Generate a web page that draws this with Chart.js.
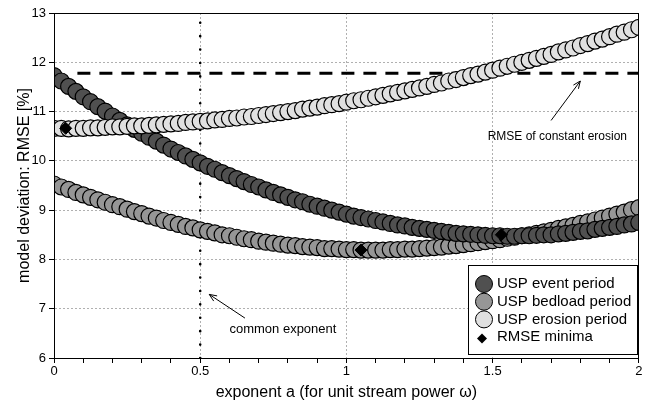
<!DOCTYPE html>
<html>
<head>
<meta charset="utf-8">
<script src="https://cdn.jsdelivr.net/npm/chart.js@4.4.1/dist/chart.umd.min.js"></script>
<style>
  body { margin: 0; background: #fff; }
</style>
</head>
<body>
<canvas id="chart" width="648" height="401"></canvas>
<script>
// exponent a, read every 0.025
const exponents = [0,0.025,0.05,0.075,0.1,0.125,0.15,0.175,0.2,0.225,
  0.25,0.275,0.3,0.325,0.35,0.375,0.4,0.425,0.45,0.475,
  0.5,0.525,0.55,0.575,0.6,0.625,0.65,0.675,0.7,0.725,
  0.75,0.775,0.8,0.825,0.85,0.875,0.9,0.925,0.95,0.975,
  1,1.025,1.05,1.075,1.1,1.125,1.15,1.175,1.2,1.225,
  1.25,1.275,1.3,1.325,1.35,1.375,1.4,1.425,1.45,1.475,
  1.5,1.525,1.55,1.575,1.6,1.625,1.65,1.675,1.7,1.725,
  1.75,1.775,1.8,1.825,1.85,1.875,1.9,1.925,1.95,1.975,
  2];

// RMSE [%] per period
const eventRmse = [11.73,11.62,11.51,11.41,11.30,11.20,11.10,11.01,10.91,10.82,
  10.73,10.64,10.56,10.48,10.40,10.32,10.24,10.17,10.10,10.03,
  9.96,9.89,9.83,9.76,9.70,9.64,9.58,9.52,9.47,9.41,
  9.36,9.31,9.26,9.21,9.17,9.12,9.08,9.04,9.00,8.96,
  8.92,8.88,8.85,8.82,8.79,8.76,8.73,8.70,8.68,8.65,
  8.63,8.61,8.59,8.57,8.55,8.53,8.52,8.51,8.50,8.49,
  8.48,8.48,8.47,8.47,8.48,8.48,8.49,8.50,8.50,8.52,
  8.53,8.55,8.57,8.58,8.61,8.63,8.65,8.67,8.70,8.72,
  8.75];
const bedloadRmse = [9.53,9.47,9.42,9.36,9.31,9.26,9.21,9.16,9.11,9.07,
  9.02,8.97,8.93,8.88,8.84,8.79,8.75,8.71,8.67,8.64,
  8.60,8.57,8.54,8.50,8.48,8.45,8.42,8.40,8.37,8.35,
  8.33,8.31,8.29,8.28,8.26,8.25,8.24,8.22,8.22,8.21,
  8.20,8.20,8.19,8.19,8.19,8.19,8.20,8.20,8.21,8.21,
  8.22,8.23,8.24,8.25,8.27,8.28,8.30,8.32,8.34,8.36,
  8.38,8.40,8.43,8.45,8.48,8.50,8.53,8.56,8.59,8.63,
  8.66,8.69,8.73,8.76,8.80,8.84,8.88,8.92,8.96,9.01,
  9.05];
const erosionRmse = [10.66,10.66,10.65,10.66,10.66,10.67,10.67,10.68,10.69,10.69,
  10.70,10.71,10.71,10.72,10.73,10.74,10.75,10.76,10.78,10.79,
  10.80,10.81,10.83,10.84,10.86,10.87,10.89,10.90,10.92,10.94,
  10.96,10.98,11.00,11.02,11.05,11.07,11.09,11.12,11.14,11.16,
  11.19,11.22,11.24,11.27,11.30,11.33,11.36,11.39,11.42,11.45,
  11.48,11.51,11.55,11.58,11.62,11.65,11.69,11.73,11.76,11.80,
  11.84,11.88,11.92,11.96,12.00,12.04,12.08,12.12,12.16,12.21,
  12.25,12.29,12.34,12.38,12.43,12.47,12.52,12.57,12.61,12.66,
  12.71];

const minimaX = [0.04, 1.05, 1.53];
const minimaY = [10.66, 8.19, 8.50];

const constantX = [0.08, 2];
const constantY = [11.78, 11.78];
const commonX = [0.5, 0.5];
const commonY = [6, 13];

const seriesLabels = ['USP event period', 'USP bedload period', 'USP erosion period', 'RMSE minima'];
const seriesColors = ['#505050', '#969696', '#e0e0e0', '#000000'];

const FONT = '"Liberation Sans", Arial, sans-serif';

function pts(xs, ys) {
  return xs.map((x, i) => ({ x: x, y: ys[i] }));
}

function isHalf(v) {
  return Math.abs(v * 2 - Math.round(v * 2)) < 1e-6;
}

function arrow(ctx, x1, y1, x2, y2) {
  const ang = Math.atan2(y2 - y1, x2 - x1);
  ctx.beginPath();
  ctx.moveTo(x1, y1);
  ctx.lineTo(x2, y2);
  ctx.moveTo(x2 - 8 * Math.cos(ang - 0.4), y2 - 8 * Math.sin(ang - 0.4));
  ctx.lineTo(x2, y2);
  ctx.lineTo(x2 - 8 * Math.cos(ang + 0.4), y2 - 8 * Math.sin(ang + 0.4));
  ctx.stroke();
}

// frame, notes with arrows, boxed legend
const extras = {
  id: 'extras',
  afterDraw(chart) {
    const ctx = chart.ctx;
    const a = chart.chartArea;
    const xs = chart.scales.x, ys = chart.scales.y;
    const px = v => xs.getPixelForValue(v);
    const py = v => ys.getPixelForValue(v);
    ctx.save();
    ctx.strokeStyle = '#000';
    ctx.lineWidth = 1;
    ctx.strokeRect(Math.round(a.left) + 0.5, Math.round(a.top) + 0.5,
      Math.round(a.right - a.left) - 1, Math.round(a.bottom - a.top));

    ctx.fillStyle = '#000';
    ctx.textBaseline = 'middle';
    ctx.textAlign = 'left';
    ctx.font = '12px ' + FONT;
    ctx.fillText('RMSE of constant erosion', px(1.483), py(10.5));
    ctx.font = '13px ' + FONT;
    ctx.fillText('common exponent', px(0.6), py(6.58));
    arrow(ctx, px(1.70), py(10.82), px(1.80), py(11.62));
    arrow(ctx, px(0.653), py(6.81), px(0.531), py(7.29));

    // legend box
    const w = 169, h = 89;
    const bx = Math.round(a.right) - 2 - w, by = Math.round(a.bottom) - 4 - h;
    ctx.fillStyle = '#fff';
    ctx.fillRect(bx, by, w, h);
    ctx.strokeRect(bx + 0.5, by + 0.5, w, h);
    ctx.font = '15px ' + FONT;
    ctx.textAlign = 'left';
    for (let i = 0; i < seriesLabels.length; i++) {
      const cy = by + 19 + i * 17.7;
      if (i < 3) {
        ctx.beginPath();
        ctx.arc(bx + 16, cy, 8.5, 0, Math.PI * 2);
        ctx.fillStyle = seriesColors[i];
        ctx.fill();
        ctx.stroke();
      } else {
        const cx = bx + 14, r = 5, dy = cy + 1.5;
        ctx.beginPath();
        ctx.moveTo(cx, dy - r); ctx.lineTo(cx + r, dy); ctx.lineTo(cx, dy + r); ctx.lineTo(cx - r, dy);
        ctx.closePath();
        ctx.fillStyle = '#000';
        ctx.fill();
      }
      ctx.fillStyle = '#000';
      ctx.fillText(seriesLabels[i], bx + 29, cy);
    }
    ctx.restore();
  }
};

const band = (label, ys, color, order) => ({
  label: label,
  data: pts(exponents, ys),
  backgroundColor: color,
  borderColor: '#000',
  borderWidth: 1.2,
  pointRadius: 8,
  pointStyle: 'circle',
  showLine: false,
  clip: 0,
  order: order
});

new Chart(document.getElementById('chart'), {
  type: 'scatter',
  data: {
    datasets: [
      {
        label: seriesLabels[3],
        data: pts(minimaX, minimaY),
        pointStyle: 'rectRot',
        pointRadius: 6,
        backgroundColor: '#000',
        borderColor: '#000',
        borderWidth: 1,
        order: 0
      },
      band(seriesLabels[2], erosionRmse, seriesColors[2], 1),
      band(seriesLabels[0], eventRmse, seriesColors[0], 2),
      band(seriesLabels[1], bedloadRmse, seriesColors[1], 3),
      {
        label: 'constant erosion',
        data: pts(constantX, constantY),
        showLine: true,
        pointRadius: 0,
        borderColor: '#000',
        borderWidth: 3,
        borderDash: [13, 9],
        order: 4
      },
      {
        label: 'common exponent',
        data: pts(commonX, commonY),
        showLine: true,
        pointRadius: 0,
        borderColor: '#000',
        borderWidth: 2.6,
        borderCapStyle: 'round',
        borderDash: [0.01, 13.4],
        order: 5
      }
    ]
  },
  options: {
    responsive: false,
    animation: false,
    events: [],
    layout: { padding: { top: 13, right: 9, left: 0, bottom: 0 } },
    plugins: { legend: { display: false }, tooltip: { enabled: false } },
    scales: {
      x: {
        type: 'linear',
        min: 0, max: 2,
        afterFit: s => { s.height = 43; },
        ticks: {
          stepSize: 0.1,
          autoSkip: false,
          maxRotation: 0,
          padding: 1,
          color: '#000',
          font: { family: FONT, size: 13 },
          callback: v => isHalf(v) ? String(Math.round(v * 2) / 2) : ''
        },
        grid: {
          color: c => (c.tick && isHalf(c.tick.value)) ? '#b0b0b0' : 'rgba(0,0,0,0)',
          tickColor: '#000',
          tickLength: 5
        },
        border: { color: '#000', width: 1, dash: [2, 2] },
        title: {
          display: true,
          text: 'exponent a (for unit stream power ω)',
          color: '#000',
          font: { family: FONT, size: 16 },
          padding: { top: 0, bottom: -1 }
        }
      },
      y: {
        min: 6, max: 13,
        afterFit: s => { s.width = 54; },
        ticks: {
          stepSize: 1,
          padding: 3,
          color: '#000',
          font: { family: FONT, size: 13 }
        },
        grid: { color: '#b0b0b0', tickColor: '#000', tickLength: 5 },
        border: { color: '#000', width: 1, dash: [2, 2] },
        title: {
          display: true,
          text: 'model deviation: RMSE [%]',
          color: '#000',
          font: { family: FONT, size: 16 },
          padding: { top: 15, bottom: 0 }
        }
      }
    }
  },
  plugins: [extras]
});
</script>
</body>
</html>
